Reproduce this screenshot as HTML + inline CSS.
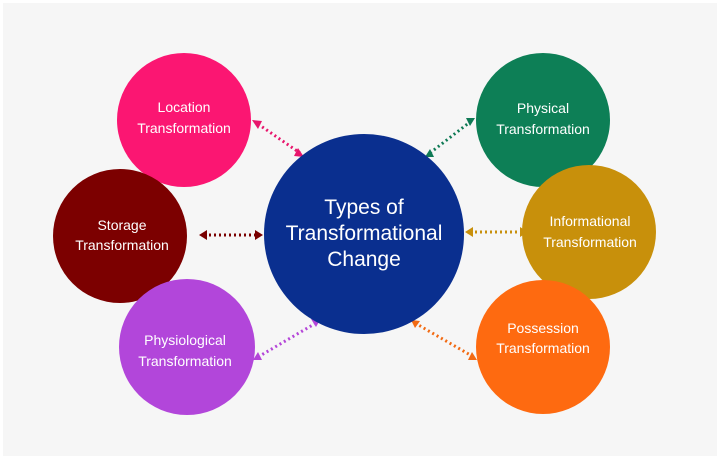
<!DOCTYPE html>
<html><head><style>
html,body{margin:0;padding:0;background:#fff;}
svg{display:block;}
text{font-family:"Liberation Sans",sans-serif;fill:#fff;text-anchor:middle;}
</style></head><body>
<svg width="720" height="462" viewBox="0 0 720 462">
<rect x="3" y="3" width="714" height="453" fill="#f6f6f6"/>
<g stroke-width="3" stroke-dasharray="2 3" fill="none">
<line x1="258" y1="124" x2="300" y2="153" stroke="#e8156c"/>
<line x1="204" y1="235" x2="258" y2="235" stroke="#7a0000"/>
<line x1="258" y1="357" x2="316" y2="323" stroke="#b445d8"/>
<line x1="430" y1="153" x2="470" y2="122" stroke="#0f7a55"/>
<line x1="470" y1="232" x2="530" y2="232" stroke="#c8900c"/>
<line x1="415" y1="323" x2="472" y2="356" stroke="#f26a12"/>
</g>
<g>
<polygon points="252,120 262,121 258,129" fill="#e8156c"/>
<polygon points="304,157 294,156 298,148" fill="#e8156c"/>
<polygon points="199,235 207,230 207,240" fill="#7a0000"/>
<polygon points="263,235 255,230 255,240" fill="#7a0000"/>
<polygon points="253,360 258,352 262,360" fill="#b445d8"/>
<polygon points="320,320 311,319 316,327" fill="#b445d8"/>
<polygon points="425,157 430,149 434,157" fill="#0f7a55"/>
<polygon points="475,118 466,118 470,126" fill="#0f7a55"/>
<polygon points="465,232 473,227 473,237" fill="#c8900c"/>
<polygon points="528,232 520,227 520,237" fill="#c8900c"/>
<polygon points="411,320 420,321 415,328" fill="#f26a12"/>
<polygon points="477,360 468,360 472,352" fill="#f26a12"/>
</g>
<circle cx="184" cy="120" r="67" fill="#fb1672"/>
<circle cx="120" cy="236" r="67" fill="#7c0000"/>
<circle cx="187" cy="347" r="68" fill="#b246da"/>
<circle cx="543" cy="120" r="67" fill="#0d7f56"/>
<circle cx="589" cy="232" r="67" fill="#c8900b"/>
<circle cx="543" cy="347" r="67" fill="#fe6a10"/>
<circle cx="364" cy="234" r="100" fill="#0a2f8f"/>
<g font-size="14">
<text x="184" y="112">Location</text><text x="184" y="133">Transformation</text>
<text x="122" y="230">Storage</text><text x="122" y="250">Transformation</text>
<text x="185" y="345">Physiological</text><text x="185" y="366">Transformation</text>
<text x="543" y="113">Physical</text><text x="543" y="134">Transformation</text>
<text x="590" y="226">Informational</text><text x="590" y="247">Transformation</text>
<text x="543" y="333">Possession</text><text x="543" y="353">Transformation</text>
</g>
<g font-size="21">
<text x="364" y="214">Types of</text>
<text x="364" y="240">Transformational</text>
<text x="364" y="266">Change</text>
</g>
</svg>
</body></html>
